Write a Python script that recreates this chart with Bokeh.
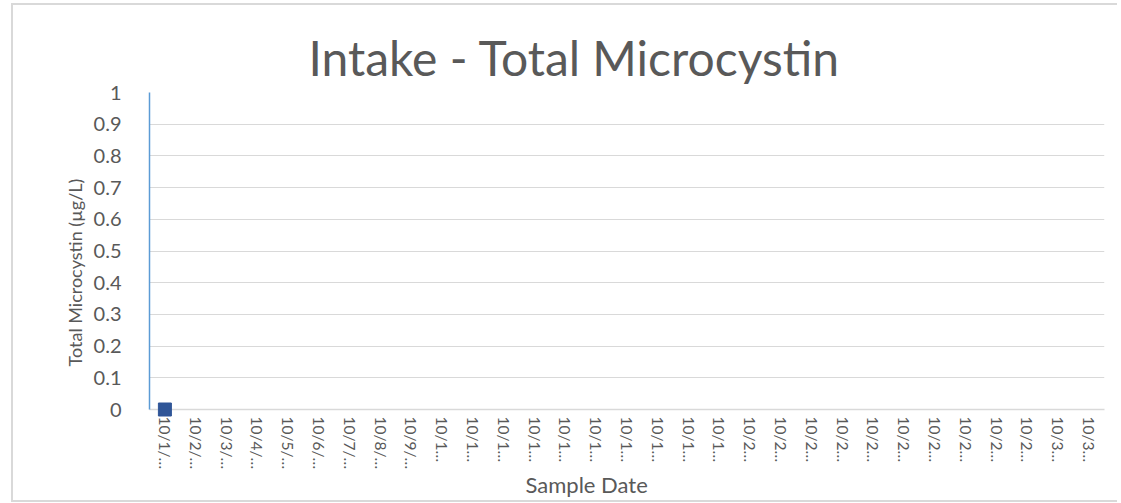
from bokeh.plotting import figure
from bokeh.models import FixedTicker, CustomJSTickFormatter, Title
from bokeh.embed import file_html
from bokeh.resources import INLINE

# categories (sample dates) and displayed (truncated) tick labels
sample_dates = ["10/1/2019", "10/2/2019", "10/3/2019", "10/4/2019", "10/5/2019", "10/6/2019",
                "10/7/2019", "10/8/2019", "10/9/2019", "10/10/2019", "10/11/2019", "10/12/2019",
                "10/13/2019", "10/14/2019", "10/15/2019", "10/16/2019", "10/17/2019", "10/18/2019",
                "10/19/2019", "10/20/2019", "10/21/2019", "10/22/2019", "10/23/2019", "10/24/2019",
                "10/25/2019", "10/26/2019", "10/27/2019", "10/28/2019", "10/29/2019", "10/30/2019",
                "10/31/2019"]
tick_labels = ["10/1/…", "10/2/…", "10/3/…", "10/4/…", "10/5/…", "10/6/…", "10/7/…", "10/8/…", "10/9/…",
               "10/1…", "10/1…", "10/1…", "10/1…", "10/1…", "10/1…", "10/1…", "10/1…", "10/1…", "10/1…",
               "10/2…", "10/2…", "10/2…", "10/2…", "10/2…", "10/2…", "10/2…", "10/2…", "10/2…", "10/2…",
               "10/3…", "10/3…"]
# measured series
measured_dates = ["10/1/2019"]
microcystin = [0.0]
y_ticks = [0, 0.1, 0.2, 0.3, 0.4, 0.5, 0.6, 0.7, 0.8, 0.9, 1]

FONT = "Lato"
GRAY = "#595959"

positions = list(range(len(sample_dates)))
x_meas = [sample_dates.index(d) for d in measured_dates]

p = figure(width=1106, height=499, output_backend="svg", toolbar_location=None,
           x_range=(-0.5, len(sample_dates) - 0.5), y_range=(0, 1),
           min_border_left=136, min_border_right=15, min_border_top=87, min_border_bottom=95)
p.styles = {"margin-left": "11px", "margin-top": "3px",
            "border-left": "2px solid #d9d9d9", "border-top": "2px solid #d9d9d9",
            "border-bottom": "2px solid #d9d9d9"}
p.outline_line_color = None
p.background_fill_color = "white"
p.border_fill_color = "white"

p.title = Title(text="Intake - Total Microcystin", text_font=FONT, text_font_size="48px",
                text_font_style="normal", text_color=GRAY, align="left", offset=159, standoff=13)

# axis titles placed as side titles so they can be shifted like the original
p.add_layout(Title(text="Sample Date", text_font=FONT, text_font_size="22px",
                   text_font_style="normal", text_color=GRAY, align="left", offset=376,
                   vertical_align="top", standoff=-4), "below")
p.add_layout(Title(text="Total Microcystin (µg/L)", text_font=FONT, text_font_size="18px",
                   text_font_style="normal", text_color=GRAY, align="left", offset=43,
                   vertical_align="top", standoff=6), "left")

# grid
p.xgrid.grid_line_color = None
p.ygrid.grid_line_color = "#d9d9d9"
p.ygrid.grid_line_width = 1
p.yaxis.ticker = FixedTicker(ticks=y_ticks)

# y axis
p.yaxis.formatter = CustomJSTickFormatter(code="return (Math.round(tick*10)/10).toString();")
p.yaxis.axis_line_color = "#5B9BD5"
p.yaxis.axis_line_width = 1.5
p.yaxis.major_tick_line_color = None
p.yaxis.minor_tick_line_color = None
p.yaxis.major_label_standoff = 22
p.yaxis.major_label_text_font = FONT
p.yaxis.major_label_text_font_size = "20px"
p.yaxis.major_label_text_color = GRAY

# x axis
p.xaxis.ticker = FixedTicker(ticks=positions)
p.xaxis.major_label_overrides = {i: t for i, t in zip(positions, tick_labels)}
p.xaxis.axis_line_color = "#d9d9d9"
p.xaxis.axis_line_width = 1.5
p.xaxis.major_tick_line_color = None
p.xaxis.minor_tick_line_color = None
p.xaxis.major_label_orientation = "vertical"
p.xaxis.major_label_standoff = 1
p.xaxis.major_label_text_font = FONT
p.xaxis.major_label_text_font_size = "15.5px"
p.xaxis.major_label_text_color = GRAY

p.scatter(x_meas, microcystin, marker="square", size=13,
          fill_color="#2F5597", line_color="#2F5597", level="overlay")

open("out.html", "w").write(file_html(p, INLINE))
